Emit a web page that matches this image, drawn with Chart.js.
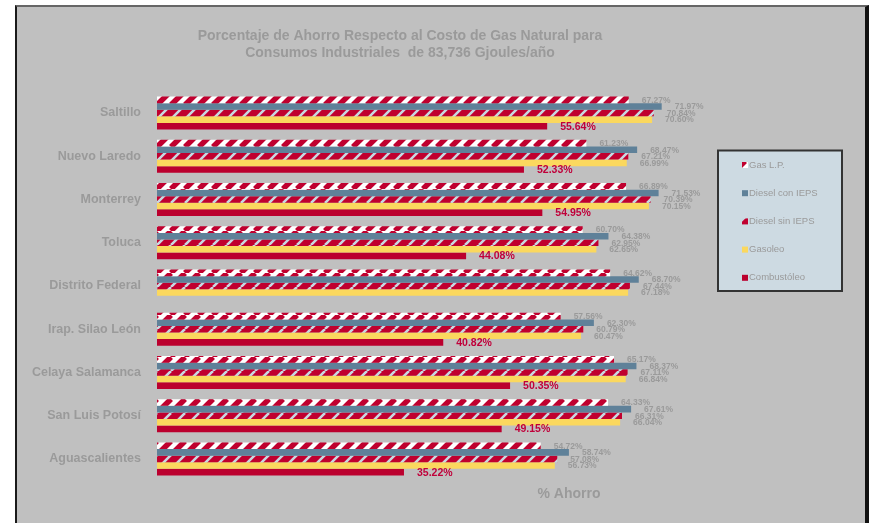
<!DOCTYPE html>
<html>
<head>
<meta charset="utf-8">
<script src="https://cdn.jsdelivr.net/npm/chart.js@4.4.0/dist/chart.umd.min.js"></script>
<style>
html, body { margin: 0; padding: 0; background: #ffffff; }
#cadre {
    position: absolute; left: 15px; top: 5px; width: 854px; height: 518px;
    box-sizing: border-box; background: #c0c0c0;
    border-top: 2px solid #666666; border-left: 2px solid #1a1a1a; border-right: 4px solid #111111;
}
#cadre canvas { position: absolute; left: 0; top: 0; }
</style>
</head>
<body>
<div id="cadre"><canvas id="graf" width="848" height="516"></canvas></div>
<script>
// Données :
const villes = ['Saltillo', 'Nuevo Laredo', 'Monterrey', 'Toluca', 'Distrito Federal',
    'Irap. Silao León', 'Celaya Salamanca', 'San Luis Potosí', 'Aguascalientes'];
const series = ['Gas L.P.', 'Diesel con IEPS', 'Diesel sin IEPS', 'Gasoleo', 'Combustóleo'];
const gasLP = [67.27, 61.23, 66.89, 60.70, 64.62, 57.56, 65.17, 64.33, 54.72];
const dieselConIEPS = [71.97, 68.47, 71.53, 64.38, 68.70, 62.30, 68.37, 67.61, 58.74];
const dieselSinIEPS = [70.84, 67.21, 70.39, 62.95, 67.44, 60.79, 67.11, 66.31, 57.08];
const gasoleo = [70.60, 66.99, 70.15, 62.65, 67.18, 60.47, 66.84, 66.04, 56.73];
const combustoleo = [55.64, 52.33, 54.95, 44.08, null, 40.82, 50.35, 49.15, 35.22];
const titre = ['Porcentaje de Ahorro Respecto al Costo de Gas Natural para',
    'Consumos Industriales  de 83,736 Gjoules/año'];
const titreAxe = '% Ahorro';

const gris = '#9a9a9a';
const rouge = '#c0002f';

// motifs rayés :
function motif(fond, trait, largeur) {
    const c = document.createElement('canvas');
    const p = 14;
    c.width = p; c.height = p;
    const g = c.getContext('2d');
    g.fillStyle = fond;
    g.fillRect(0, 0, p, p);
    g.strokeStyle = trait;
    g.lineWidth = largeur;
    g.beginPath();
    for (let k = -1; k <= 1; k++) {
        g.moveTo(k * p, p);
        g.lineTo(k * p + p, 0);
    }
    g.stroke();
    return g.createPattern(c, 'repeat');
}

const couleurs = [
    motif('#ffffff', rouge, 5.5),
    '#5f8199',
    motif(rouge, '#c8d8e2', 2.6),
    '#fbd85e',
    '#bb002e'
];

// étiquettes + titre + légende :
const dessins = {
    id: 'dessins',
    afterDatasetsDraw(chart) {
        const ctx = chart.ctx;
        ctx.save();
        ctx.textBaseline = 'middle';
        ctx.textAlign = 'left';
        chart.data.datasets.forEach((ds, i) => {
            const meta = chart.getDatasetMeta(i);
            meta.data.forEach((barre, j) => {
                const v = ds.data[j];
                if (v === null) return;
                if (i === 4) {
                    ctx.font = 'bold 10.5px "Liberation Sans", Arial, sans-serif';
                    ctx.fillStyle = '#c0003a';
                } else {
                    ctx.font = 'bold 8.5px "Liberation Sans", Arial, sans-serif';
                    ctx.fillStyle = gris;
                }
                ctx.fillText(v.toFixed(2) + '%', barre.x + 13, barre.y + 0.5);
            });
        });

        // titre
        ctx.textAlign = 'center';
        ctx.fillStyle = gris;
        ctx.font = 'bold 14px "Liberation Sans", Arial, sans-serif';
        ctx.fillText(titre[0], 383, 29);
        ctx.fillText(titre[1], 383, 46);
        ctx.fillText(titreAxe, 552, 487);

        // légende
        const lx = 701, ly = 143.5, lw = 124, lh = 140.5;
        ctx.fillStyle = '#cddae2';
        ctx.fillRect(lx, ly, lw, lh);
        ctx.strokeStyle = '#333333';
        ctx.lineWidth = 2;
        ctx.strokeRect(lx, ly, lw, lh);
        ctx.textAlign = 'left';
        ctx.font = '9.5px "Liberation Sans", Arial, sans-serif';
        series.forEach((nom, i) => {
            const y = 158 + i * 28.2;
            ctx.fillStyle = couleurs[i];
            ctx.fillRect(725, y - 3, 6, 6);
            ctx.fillStyle = gris;
            ctx.fillText(nom, 732, y);
        });
        ctx.restore();
    }
};

const ctx = document.getElementById('graf').getContext('2d');
const graphique = new Chart(ctx, {
    type: 'bar',
    data: {
        labels: villes,
        datasets: [gasLP, dieselConIEPS, dieselSinIEPS, gasoleo, combustoleo].map((d, i) => ({
            label: series[i],
            data: d,
            backgroundColor: couleurs[i],
            borderWidth: 0,
            categoryPercentage: 0.76,
            barPercentage: 1.0
        }))
    },
    options: {
        indexAxis: 'y',
        responsive: false,
        animation: false,
        layout: { padding: { top: 84.4, bottom: 42.4, left: 0, right: 147 } },
        plugins: {
            legend: { display: false },
            title: { display: false },
            tooltip: { enabled: false }
        },
        scales: {
            x: { display: false, min: 0, max: 80 },
            y: {
                grid: { display: false, drawTicks: false },
                border: { display: false },
                ticks: {
                    color: gris,
                    padding: 16,
                    font: { family: '"Liberation Sans", Arial, sans-serif', size: 12.5, weight: 'bold' }
                },
                afterFit(scale) { scale.width = 140; }
            }
        }
    },
    plugins: [dessins]
});
</script>
</body>
</html>
